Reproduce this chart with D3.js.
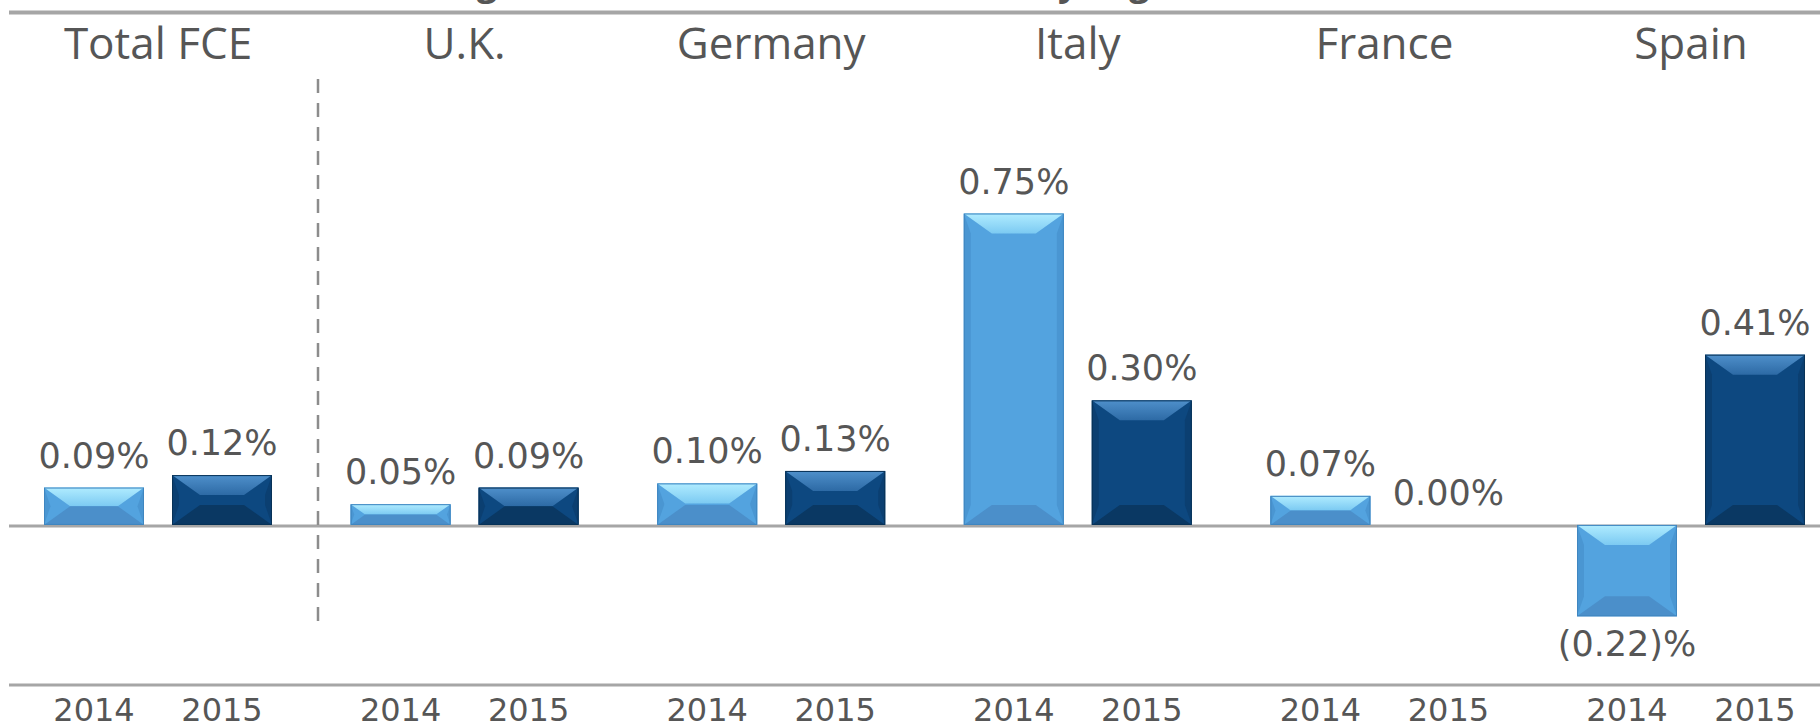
<!DOCTYPE html>
<html>
<head>
<meta charset="utf-8">
<script src="https://cdn.jsdelivr.net/npm/d3@7"></script>
<style>
  body { margin: 0; background: #fff; }
  text { font-family: "Open Sans", "Noto Sans", sans-serif; fill: #565656; }
  text.value, text.year { font-family: "DejaVu Sans", sans-serif; }
</style>
</head>
<body>
<svg class="chart"></svg>
<script>
var width = 1820;
var height = 726;

// data
var groups = ["Total FCE", "U.K.", "Germany", "Italy", "France", "Spain"];
var years = ["2014", "2015"];
var values2014 = [0.09, 0.05, 0.10, 0.75, 0.07, -0.22];
var values2015 = [0.12, 0.09, 0.13, 0.30, 0.00, 0.41];
var titleText = "Change in Loss-to-Receivables Ratio by Segment";

var rows = [];
groups.forEach(function(g, i) {
    rows.push({group: g, year: "2014", value: values2014[i]});
    rows.push({group: g, year: "2015", value: values2015[i]});
});

var x0 = d3.scaleBand()
    .domain(groups)
    .range([4.7, 4.7 + 306.6 * groups.length]);

var x1 = d3.scaleBand()
    .domain(years)
    .range([0, 228])
    .paddingInner(0.21875);

var y = d3.scaleLinear()
    .domain([-0.3, 0.75])
    .range([649.5, 213.5]);

var colors = {
    "2014": {body: "#53a3df", top: ["#b0ecff", "#7ccaf2"], bottom: "#4b8fca", side: "#4a96d2", edge: "#3f86c0"},
    "2015": {body: "#0d4880", top: ["#4f90cb", "#2d6aa5"], bottom: "#0a3863", side: "#0b3f71", edge: "#083257"}
};

function barCenter(d) {
    return x0(d.group) + x0.bandwidth() / 2 - 114 + x1(d.year) + x1.bandwidth() / 2;
}

var chart = d3.select(".chart")
    .attr("width", width)
    .attr("height", height);

var defs = chart.append("defs");
years.forEach(function(yr) {
    var gr = defs.append("linearGradient")
        .attr("id", "top" + yr)
        .attr("x1", 0).attr("y1", 0).attr("x2", 0).attr("y2", 1);
    gr.append("stop").attr("offset", "0%").attr("stop-color", colors[yr].top[0]);
    gr.append("stop").attr("offset", "100%").attr("stop-color", colors[yr].top[1]);
});

// title, mostly cropped off the top
chart.append("text")
    .attr("x", 815)
    .attr("y", -5)
    .attr("text-anchor", "middle")
    .style("font-size", "36px")
    .style("font-weight", "bold")
    .text(titleText);

// top rule, zero line, bottom rule
chart.append("line")
    .attr("x1", 9).attr("x2", width)
    .attr("y1", 12.5).attr("y2", 12.5)
    .attr("stroke", "#a6a6a6").attr("stroke-width", 4);

chart.append("line")
    .attr("x1", 9).attr("x2", width)
    .attr("y1", y(0) + 1).attr("y2", y(0) + 1)
    .attr("stroke", "#a6a6a6").attr("stroke-width", 3);

chart.append("line")
    .attr("x1", 9).attr("x2", width)
    .attr("y1", 685).attr("y2", 685)
    .attr("stroke", "#a6a6a6").attr("stroke-width", 3);

// dashed separator after Total FCE
chart.append("line")
    .attr("x1", 318).attr("x2", 318)
    .attr("y1", 79).attr("y2", 623)
    .attr("stroke", "#8c8c8c")
    .attr("stroke-width", 2.5)
    .attr("stroke-dasharray", "14,10");

// group titles
chart.selectAll("text.group")
    .data(groups)
    .enter()
    .append("text")
    .attr("class", "group")
    .attr("x", function(d) { return x0(d) + x0.bandwidth() / 2; })
    .attr("y", 59)
    .attr("text-anchor", "middle")
    .style("font-size", "44px")
    .text(function(d) { return d; });

// year labels
chart.selectAll("text.year")
    .data(rows)
    .enter()
    .append("text")
    .attr("class", "year")
    .attr("x", barCenter)
    .attr("y", 721)
    .attr("text-anchor", "middle")
    .style("font-size", "32px")
    .text(function(d) { return d.year; });

// bars with a bevel look
chart.selectAll("g.bar")
    .data(rows.filter(function(d) { return d.value !== 0; }))
    .enter()
    .append("g")
    .attr("class", "bar")
    .each(function(d) {
        var g = d3.select(this);
        var bx = x0(d.group) + x0.bandwidth() / 2 - 114 + x1(d.year);
        var bw = x1.bandwidth();
        var top = Math.min(y(d.value), y(0));
        var bh = Math.abs(y(d.value) - y(0));
        var c = colors[d.year];
        var b = Math.min(20, bh / 2, bw / 2);
        var L = bx, R = bx + bw, T = top, B = top + bh;

        g.append("rect")
            .attr("x", L).attr("y", T)
            .attr("width", bw).attr("height", bh)
            .attr("fill", c.body);
        // sides
        g.append("path")
            .attr("d", "M" + L + "," + T + "L" + (L + b * 0.35) + "," + (T + b) + "L" + (L + b * 0.35) + "," + (B - b) + "L" + L + "," + B + "Z")
            .attr("fill", c.side);
        g.append("path")
            .attr("d", "M" + R + "," + T + "L" + (R - b * 0.35) + "," + (T + b) + "L" + (R - b * 0.35) + "," + (B - b) + "L" + R + "," + B + "Z")
            .attr("fill", c.side);
        // top bevel
        g.append("path")
            .attr("d", "M" + L + "," + T + "L" + R + "," + T + "L" + (R - b * 1.4) + "," + (T + b) + "L" + (L + b * 1.4) + "," + (T + b) + "Z")
            .attr("fill", "url(#top" + d.year + ")");
        // bottom bevel
        g.append("path")
            .attr("d", "M" + L + "," + B + "L" + R + "," + B + "L" + (R - b * 1.4) + "," + (B - b) + "L" + (L + b * 1.4) + "," + (B - b) + "Z")
            .attr("fill", c.bottom);
        g.append("rect")
            .attr("x", L + 0.5).attr("y", T + 0.5)
            .attr("width", bw - 1).attr("height", bh - 1)
            .attr("fill", "none")
            .attr("stroke", c.edge)
            .attr("stroke-width", 1);
    });

// value labels
function fmt(v) {
    return v < 0 ? "(" + Math.abs(v).toFixed(2) + ")%" : v.toFixed(2) + "%";
}

chart.selectAll("text.value")
    .data(rows)
    .enter()
    .append("text")
    .attr("class", "value")
    .attr("x", barCenter)
    .attr("y", function(d) { return d.value < 0 ? y(d.value) + 40 : y(d.value) - 20; })
    .attr("text-anchor", "middle")
    .style("font-size", "35px")
    .text(function(d) { return fmt(d.value); });
</script>
</body>
</html>
